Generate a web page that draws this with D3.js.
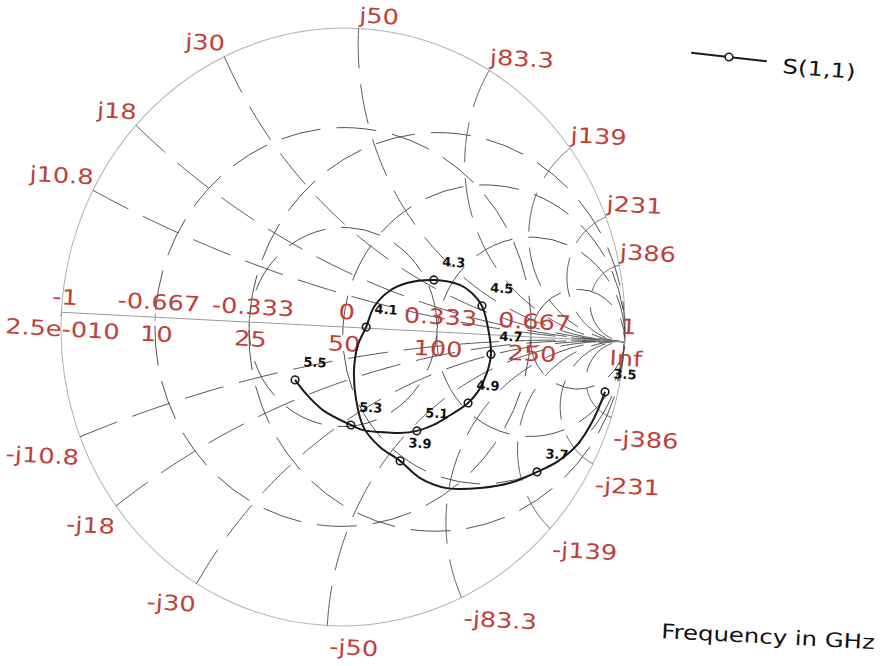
<!DOCTYPE html>
<html>
<head>
<meta charset="utf-8">
<script src="https://cdn.jsdelivr.net/npm/d3@7"></script>
<style>
  body { margin: 0; background: #fff; }
  svg { display: block; }
  .rim { fill: none; stroke: #b0b0b0; stroke-width: 1; }
  .grid { fill: none; stroke: #444; stroke-width: 0.9; stroke-dasharray: 40 16; }
  .axis { stroke: #999; stroke-width: 1; }
  .lbl { font-family: "DejaVu Sans", sans-serif; font-size: 21px; fill: #bf3f3a; }
  .freq { font-family: "DejaVu Sans", sans-serif; font-size: 13px; font-weight: bold; fill: #111; }
  .big { font-family: "DejaVu Sans", sans-serif; font-size: 20px; fill: #111; }
</style>
</head>
<body>
<div id="chart"></div>
<script>
// labels on the real axis: reflection coefficient above, ohms below (Z0 = 50)
const gammaTicks = [-1, -0.667, -0.333, 0, 0.333, 0.667, 1];
const gammaLabels = ["-1", "-0.667", "-0.333", "0", "0.333", "0.667", "1"];
const resistLabels = ["2.5e-010", "10", "25", "50", "100", "250", "Inf"];
// reactance arcs, ohms
const reactOhms = [10.8, 18, 30, 50, 83.3, 139, 231, 386];
const reactLabels = ["10.8", "18", "30", "50", "83.3", "139", "231", "386"];
const resistCircles = [0.5, 1, 2, 5];   // normalized r
const magCircles = [0.333, 0.667];      // |gamma|
const z0 = 50;

const traceRe = [0.940, 0.903, 0.851, 0.783, 0.714, 0.631, 0.515, 0.398, 0.301, 0.227,
                 0.153, 0.093, 0.060, 0.047, 0.056, 0.082, 0.106, 0.153, 0.218, 0.313,
                 0.406, 0.450, 0.488, 0.513, 0.529, 0.518, 0.493, 0.457, 0.385, 0.337,
                 0.281, 0.221, 0.150, 0.090, 0.046, -0.056, -0.115, -0.160];
const traceIm = [-0.171, -0.267, -0.353, -0.413, -0.450, -0.488, -0.514, -0.520, -0.491, -0.437,
                 -0.394, -0.334, -0.241, -0.141, -0.058, 0.004, 0.072, 0.125, 0.158, 0.173,
                 0.161, 0.136, 0.095, 0.025, -0.065, -0.128, -0.187, -0.232, -0.283, -0.312,
                 -0.334, -0.344, -0.344, -0.341, -0.326, -0.281, -0.233, -0.185];

// markers, GHz
const markerFreq = [3.5, 3.7, 3.9, 4.1, 4.3, 4.5, 4.7, 4.9, 5.1, 5.3, 5.5];
const markerRe = [0.940, 0.714, 0.227, 0.082, 0.313, 0.488, 0.529, 0.457, 0.281, 0.046, -0.160];
const markerIm = [-0.171, -0.450, -0.437, 0.004, 0.173, 0.095, -0.065, -0.232, -0.334, -0.326, -0.185];

const W = 888, H = 666;
const cx = 343, cy = 327, RX = 282, RY = 299, tilt = 3;
const stretch = 1.22;

const svg = d3.select("#chart").append("svg").attr("width", W).attr("height", H);

const x = d3.scaleLinear().domain([-1, 1]).range([cx - RX, cx + RX]);
const y = d3.scaleLinear().domain([-1, 1]).range([cy + RY, cy - RY]);
const line = d3.line().x(d => x(d[0])).y(d => y(d[1]));

const chart = svg.append("g").attr("transform", `rotate(${tilt},${cx},${cy})`);

function gammaOf(r, xn) {
    const d = (r + 1) * (r + 1) + xn * xn;
    return [(r * r - 1 + xn * xn) / d, 2 * xn / d];
}

function label(parent, px, py, txt, cls, anchor, sx) {
    return parent.append("text")
        .attr("class", cls)
        .attr("text-anchor", anchor)
        .attr("transform", `translate(${px},${py}) scale(${sx},1)`)
        .text(txt);
}

// outer circle
chart.append("ellipse").attr("class", "rim")
    .attr("cx", x(0)).attr("cy", y(0))
    .attr("rx", x(1) - x(0)).attr("ry", y(0) - y(1));

// constant |gamma| circles
magCircles.forEach(m => {
    chart.append("ellipse").attr("class", "grid")
        .attr("cx", x(0)).attr("cy", y(0))
        .attr("rx", x(m) - x(0)).attr("ry", y(0) - y(m));
});

// resistance circles
resistCircles.forEach(r => {
    const c = r / (1 + r), rad = 1 / (1 + r);
    chart.append("ellipse").attr("class", "grid")
        .attr("cx", x(c)).attr("cy", y(0))
        .attr("rx", x(rad) - x(0)).attr("ry", y(0) - y(rad));
});

// reactance arcs
const steps = d3.range(0, 1, 0.004);
reactOhms.forEach(ohm => {
    [1, -1].forEach(s => {
        const xn = s * ohm / z0;
        const pts = steps.map(t => gammaOf(t / (1 - t), xn));
        pts.push([1, 0]);
        chart.append("path").attr("class", "grid").attr("d", line(pts));
    });
});

// real axis
chart.append("line").attr("class", "axis")
    .attr("x1", x(-1)).attr("x2", x(1)).attr("y1", y(0)).attr("y2", y(0));
chart.selectAll(".tick").data(gammaTicks).enter().append("line")
    .attr("class", "axis")
    .attr("x1", d => x(d)).attr("x2", d => x(d))
    .attr("y1", y(0) - 4).attr("y2", y(0) + 4);

gammaTicks.forEach((g, i) => {
    label(chart, x(g) + 3, y(0) - 8, gammaLabels[i], "lbl", "middle", stretch);
    label(chart, x(g) + 2, y(0) + 24, resistLabels[i], "lbl", "middle", stretch);
});

// rim labels
reactOhms.forEach((ohm, i) => {
    [1, -1].forEach(s => {
        const p = gammaOf(0, s * ohm / z0);
        const anchor = p[0] < -0.01 ? "end" : "start";
        const px = x(p[0]) + (anchor === "start" && s < 0 ? 3 : 0);
        const py = s > 0 ? y(p[1]) - 6 : y(p[1]) + 28;
        label(chart, px, py, (s > 0 ? "j" : "-j") + reactLabels[i], "lbl", anchor, stretch);
    });
});

// S(1,1) trace
const trace = traceRe.map((r, i) => [r, traceIm[i]]);
chart.append("path")
    .attr("d", line.curve(d3.curveCatmullRom.alpha(0.5))(trace))
    .attr("fill", "none").attr("stroke", "#1a1a1a").attr("stroke-width", 2);

markerFreq.forEach((f, i) => {
    const px = x(markerRe[i]), py = y(markerIm[i]);
    chart.append("circle").attr("cx", px).attr("cy", py).attr("r", 3.8)
        .attr("fill", "none").attr("stroke", "#1a1a1a").attr("stroke-width", 1.6);
    label(chart, px + 19, py - 14, f.toFixed(1), "freq", "middle", 1);
});

// legend
const legend = svg.append("g").attr("transform", "translate(729,57) rotate(6.5)");
legend.append("line").attr("x1", -38).attr("x2", 38)
    .attr("stroke", "#1a1a1a").attr("stroke-width", 2);
legend.append("circle").attr("r", 3.8)
    .attr("fill", "#fff").attr("stroke", "#1a1a1a").attr("stroke-width", 1.6);
svg.append("text").attr("class", "big")
    .attr("transform", `translate(782,73) rotate(4.5) scale(${stretch},1)`)
    .text("S(1,1)");

svg.append("text").attr("class", "big")
    .attr("transform", `translate(661,638) rotate(3) scale(${stretch},1)`)
    .text("Frequency in GHz");
</script>
</body>
</html>
